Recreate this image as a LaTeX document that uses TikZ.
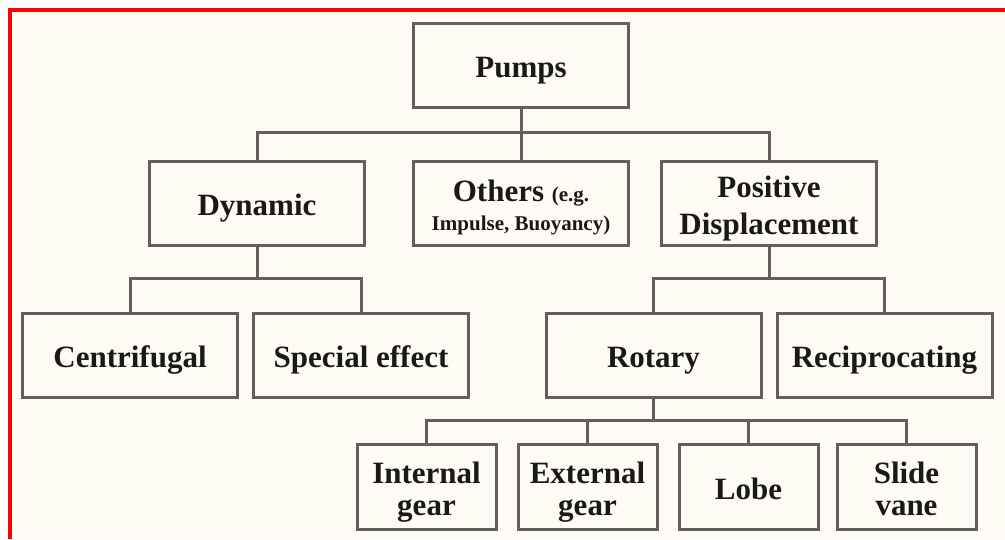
\documentclass[tikz,border=0pt]{standalone}
\usepackage{fontspec}
\setmainfont{Liberation Serif}
\usetikzlibrary{positioning}
\definecolor{paper}{HTML}{FDFBF3}
\definecolor{edge}{HTML}{606060}
\definecolor{frame}{HTML}{FF0000}
\newcommand{\smalltxt}[1]{{\fontsize{21}{24}\selectfont #1}}
\newcommand{\tophang}{\rule{0pt}{32pt}}
\newcommand{\lowhang}{\rule[-7pt]{0pt}{7pt}}
\tikzset{
        box/.style={draw=edge, line width=3pt, minimum width=215pt, minimum height=84pt, inner sep=2pt,
            align=center, text=black!90, font=\bfseries\fontsize{31}{37}\selectfont,
            execute at begin node=\tophang, execute at end node=\lowhang}, % every box of the tree
        leaf/.style={box, minimum width=139pt, minimum height=85pt}, % small boxes of the last row
        link/.style={draw=edge, line width=3pt}, % the connecting lines
    }
\begin{document}
\begin{tikzpicture}[x=1pt, y=1pt]
    \useasboundingbox (0,0) rectangle (1005,-539);
    \fill[paper] (10,-10) rectangle (1005,-539);
    \draw[frame, line width=4pt] (10,-539) -- (10,-10) -- (1005,-10);

    \node[box] (pumps) at (521,-65) {Pumps};
    \node[box, below=51pt of pumps] (others) {\tophang Others \smalltxt{(e.g.}\\[-8pt]\smalltxt{Impulse, Buoyancy)}\lowhang};
    \node[box, left=46pt of others] (dyn) {Dynamic};
    \node[box, right=30pt of others] (pd) {\tophang Positive\\Displacement\lowhang};

    \node[box] (centri) at (130,-355) {Centrifugal};
    \node[box, right=13pt of centri] (special) {Special effect};
    \node[box] (rotary) at (653.5,-355) {Rotary};
    \node[box, right=13pt of rotary] (recip) {Reciprocating};

    \node[leaf] (intgear) at (426.5,-486.5) {\tophang Internal\\[-5pt]gear\lowhang};
    \node[leaf, right=19pt of intgear] (extgear) {\tophang External\\[-5pt]gear\lowhang};
    \node[leaf, right=19pt of extgear] (lobe) {Lobe};
    \node[leaf, right=16pt of lobe] (slide) {\tophang Slide\\[-5pt]vane\lowhang};

    \coordinate[above=27pt of others.north] (pumpjoint);
    \coordinate[below=32pt of dyn.south] (dynjoint);
    \coordinate[below=32pt of pd.south] (pdjoint);
    \coordinate[below=22pt of rotary.south] (rotjoint);

    \draw[link] (pumps) -- (others);
    \draw[link] (dyn.north) |- (pumpjoint) -| (pd.north);
    \draw[link] (dyn) -- (dynjoint);
    \draw[link] (centri.north) |- (dynjoint) -| (special.north);
    \draw[link] (pd) -- (pdjoint);
    \draw[link] (rotary.north) |- (pdjoint) -| (recip.north);
    \draw[link] (rotary) -- (rotjoint);
    \draw[link] (intgear.north) |- (rotjoint) -| (slide.north);
    \draw[link] (extgear.north) -- (extgear.north |- rotjoint);
    \draw[link] (lobe.north) -- (lobe.north |- rotjoint);
\end{tikzpicture}
\end{document}
